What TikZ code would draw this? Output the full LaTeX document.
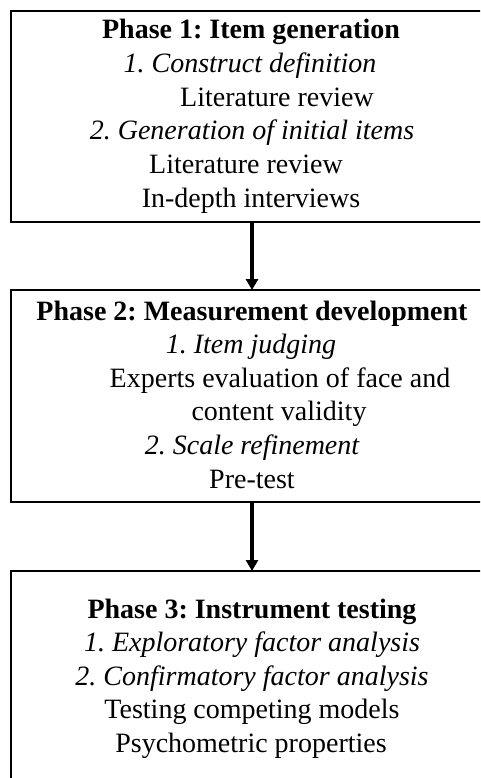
\documentclass[tikz,border=0pt]{standalone}
\usepackage{fontspec}
\setmainfont{Liberation Serif}
\usetikzlibrary{arrows.meta}
\frenchspacing
\begin{document}
\begin{tikzpicture}[x=1pt,y=-1pt,
  phasebox/.style={draw=black,line width=1.1pt,inner sep=0pt,outer sep=0pt,minimum width=482pt},
  txt/.style={anchor=base,inner sep=0pt,outer sep=0pt,font=\fontsize{28}{33}\selectfont},
  head/.style={txt,font=\fontsize{28}{33}\selectfont\bfseries},
  sub/.style={txt,font=\fontsize{28}{33}\selectfont\itshape},
  flowarrow/.style={line width=3.4pt,-{Triangle[width=12pt,length=11pt]}}]
\clip (0,0) rectangle (480,778);
\useasboundingbox (0,0) rectangle (480,778);
% boxes
\node[phasebox,minimum height=211pt] (box1) at (252,116.5) {};
\node[phasebox,minimum height=212pt] (box2) at (252,396) {};
\node[phasebox,minimum height=229pt] (box3) at (252,685.5) {};
% box 1 text
\node[head] (t11) at (251,39) {Phase 1: Item generation};
\node[sub]  (t12) at (250,72.6) {1. Construct definition};
\node[txt]  (t13) at (277,106.2) {Literature review};
\node[sub]  (t14) at (252,139.8) {2. Generation of initial items};
\node[txt]  (t15) at (246,173.4) {Literature review};
\node[txt]  (t16) at (251,207) {In-depth interviews};
% box 2 text
\node[head] (t21) at (252,320) {Phase 2: Measurement development};
\node[sub]  (t22) at (251,353.6) {1. Item judging};
\node[txt]  (t23) at (280,387.2) {Experts evaluation of face and};
\node[txt]  (t24) at (279,420.8) {content validity};
\node[sub]  (t25) at (252,454.4) {2. Scale refinement};
\node[txt]  (t26) at (252,488) {Pre-test};
% box 3 text
\node[head] (t31) at (252,618) {Phase 3: Instrument testing};
\node[sub]  (t32) at (252,651.5) {1. Exploratory factor analysis};
\node[sub]  (t33) at (252,685) {2. Confirmatory factor analysis};
\node[txt]  (t34) at (252,718.5) {Testing competing models};
\node[txt]  (t35) at (251,752) {Psychometric properties};
% arrows
\draw[flowarrow] (box1.south) -- (box2.north);
\draw[flowarrow] (box2.south) -- (box3.north);
\end{tikzpicture}
\end{document}
